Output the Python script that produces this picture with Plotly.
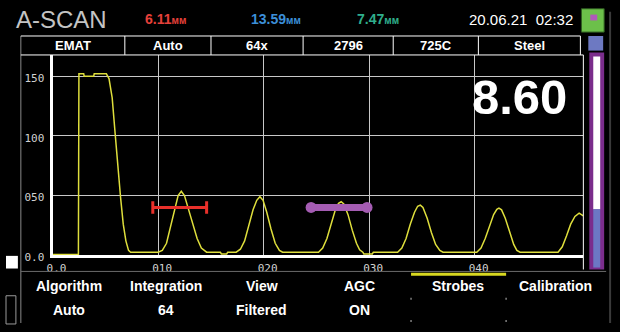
import plotly.graph_objects as go

W, H = 620, 332

# A-scan signal: time of flight (x) against echo amplitude (y)
scan_x = [0.0, 2.45, 2.5, 2.95, 3.0, 3.9, 3.95, 5.1, 5.35, 5.65, 5.95, 6.2, 6.45, 6.7, 6.95, 7.2, 7.4,
          10.0, 10.4, 10.8, 11.2, 11.6, 11.9, 12.2, 12.5, 12.9, 13.3, 13.7, 14.1, 14.6,
          15.9, 16.0, 16.5, 16.6,
          17.4, 17.8, 18.2, 18.6, 19.0, 19.35, 19.65, 19.95, 20.3, 20.7, 21.1, 21.5, 21.8,
          25.2, 25.6, 26.0, 26.4, 26.8, 27.1, 27.35, 27.6, 28.0, 28.4, 28.8, 29.1, 29.4,
          29.5, 30.3, 30.4,
          32.7, 33.1, 33.5, 33.9, 34.3, 34.6, 34.85, 35.1, 35.5, 35.9, 36.3, 36.7, 37.0,
          40.2, 40.6, 41.0, 41.4, 41.8, 42.1, 42.3, 42.55, 42.9, 43.3, 43.7, 44.0, 44.3,
          47.9, 48.3, 48.7, 49.1, 49.5, 49.9, 50.3]
scan_y = [0.5, 0.5, 152, 152, 150, 150, 152, 152, 148, 132, 100, 72, 48, 26, 12, 4, 2.5,
          2.5, 4, 10, 24, 40, 50, 53.5, 50, 38, 26, 14, 6, 2.5,
          2.5, 1, 1, 2.5,
          2.5, 5, 12, 25, 38, 46, 49, 46, 36, 22, 10, 4, 2.5,
          2.5, 6, 14, 26, 38, 43.5, 44.8, 43, 34, 21, 10, 4.5, 2.5,
          1, 1, 2.5,
          2.5, 6, 14, 26, 36, 41, 42, 40, 31, 19, 9, 4, 2.5,
          2.5, 6, 14, 25, 34, 38.5, 39.4, 38, 31, 20, 9, 4, 2.5,
          2.5, 7, 16, 26, 32.5, 35.3, 33]

# Measurement strobes (start/end time, level)
strobe_a_x = [9.5, 14.6]
strobe_a_y = [40, 40]
strobe_b_x = [24.5, 29.8]
strobe_b_y = [40, 40]

x_ticks = [0, 10, 20, 30, 40]
x_tick_labels = ["0.0", "010", "020", "030", "040"]
y_ticks = [0, 50, 100, 150]
y_tick_labels = ["0.0", "050", "100", "150"]

reading_values = ["6.11", "13.59", "7.47"]
reading_unit = "мм"
timestamp = "20.06.21  02:32"
screen_title = "A-SCAN"
thickness = "8.60"
header_cells = ["EMAT", "Auto", "64x", "2796", "725C", "Steel"]
menu_titles = ["Algorithm", "Integration", "View", "AGC", "Strobes", "Calibration"]
menu_values = ["Auto", "64", "Filtered", "ON", "", ""]


def fx(px):
    return px / W


def fy(py):
    return 1 - py / H


fig = go.Figure()
fig.add_trace(go.Scatter(x=scan_x, y=scan_y, mode="lines",
                         line=dict(color="#dede3c", width=1.5), hoverinfo="skip"))
fig.add_trace(go.Scatter(x=strobe_a_x, y=strobe_a_y, mode="lines+markers",
                         line=dict(color="#e8302a", width=3),
                         marker=dict(symbol="line-ns", size=9,
                                     line=dict(color="#e8302a", width=3)),
                         hoverinfo="skip"))
fig.add_trace(go.Scatter(x=strobe_b_x, y=strobe_b_y, mode="lines+markers",
                         line=dict(color="#a45cb2", width=7),
                         marker=dict(symbol="circle", size=11, color="#a45cb2"),
                         hoverinfo="skip"))

tickfont = dict(family="DejaVu Sans Mono", size=11, color="#d2d2d2")
fig.update_xaxes(domain=[fx(47), fx(583)], range=[0, 50.3],
                 tickvals=x_ticks, ticktext=x_tick_labels, tickfont=tickfont,
                 showgrid=True, gridcolor="#c8c8c8", gridwidth=1, zeroline=False,
                 showline=True, linecolor="white", linewidth=3, ticks="",
                 ticklabelshift=4, ticklabelstandoff=1, fixedrange=True)
fig.update_yaxes(domain=[fy(262.3), fy(56.5)], range=[0, 167.8],
                 tickvals=y_ticks, ticktext=y_tick_labels, tickfont=tickfont,
                 showgrid=True, gridcolor="#c8c8c8", gridwidth=1, zeroline=False,
                 showline=True, linecolor="white", linewidth=3, ticks="",
                 ticklabelstandoff=3, ticklabelshift=2, fixedrange=True)

shapes = []


def line(x0, y0, x1, y1, color, width=1):
    shapes.append(dict(type="line", xref="paper", yref="paper",
                       x0=fx(x0), y0=fy(y0), x1=fx(x1), y1=fy(y1),
                       line=dict(color=color, width=width), layer="above"))


def rect(x0, y0, x1, y1, fill, outline=None, width=0):
    shapes.append(dict(type="rect", xref="paper", yref="paper",
                       x0=fx(x0), y0=fy(y0), x1=fx(x1), y1=fy(y1),
                       fillcolor=fill,
                       line=dict(color=outline or fill, width=width), layer="above"))


# frame of the scan window and header row
line(15, 37, 15, 332, "#8a8a8a")
line(15, 37, 580, 37, "white")
line(15, 56.5, 583, 56.5, "white")
header_edges = [15, 120, 207, 300, 391, 477, 580]
for xe in header_edges[1:]:
    line(xe, 37, xe, 56.5, "white")
line(583, 56.5, 583, 277, "white")
line(15, 279, 606, 279, "#6a6a6a")

# menu: active tab underline and separators
line(409, 282, 505, 282, "#d8d820", 3)
for xe in (409, 505):
    for ye in (307, 330):
        line(xe, ye - 1, xe, ye + 1, "#808080", 1.5)

# gain bar on the right
rect(588, 37, 603, 52, "#6d79c2")
rect(589, 54, 604, 277, "#7b2d8c")
rect(593, 58, 600, 215, "white")
rect(593, 215, 600, 275, "#6c78c4")

# status indicator
rect(581, 9, 604, 33, "#6cc04a", "#2e5a20", 1)
rect(590, 15, 597, 21, "#b05ab8")

# device bezel details
line(610, 12, 610, 332, "#3a3a3a", 2)
rect(0, 263, 12, 276, "white")
rect(0, 304, 10, 333, "black", "#9a9a9a", 1)

annotations = []


def text(x, y, s, size, color="white", family="Liberation Sans"):
    annotations.append(dict(x=fx(x), y=fy(y), xref="paper", yref="paper",
                            text=s, showarrow=False, xanchor="center", yanchor="middle",
                            font=dict(family=family, size=size, color=color)))


text(56, 20, screen_title, 24, "#c4c4c4")
reading_colors = ["#e5403a", "#3c8fd8", "#2fae8c"]
reading_centers = [161, 273, 376]
for val, col, cx in zip(reading_values, reading_colors, reading_centers):
    text(cx, 20, "<b>%s<span style='font-size:10px'>%s</span></b>" % (val, reading_unit), 14, col)
text(520, 20, timestamp, 15)

for i, cell in enumerate(header_cells):
    cx = (header_edges[i] + header_edges[i + 1]) / 2
    text(cx, 46.5, "<b>%s</b>" % cell, 13)

text(519, 100, "<b>%s</b>" % thickness, 49)

menu_centers = [64, 162, 258, 357, 456, 555]
for title, value, cx in zip(menu_titles, menu_values, menu_centers):
    text(cx, 294, "<b>%s</b>" % title, 14)
    if value:
        text(cx, 319, "<b>%s</b>" % value, 14)

fig.update_layout(width=W, height=H, margin=dict(l=0, r=0, t=0, b=0),
                  paper_bgcolor="black", plot_bgcolor="black", showlegend=False,
                  shapes=shapes, annotations=annotations)

fig.write_html("out.html", config={"displayModeBar": False})
